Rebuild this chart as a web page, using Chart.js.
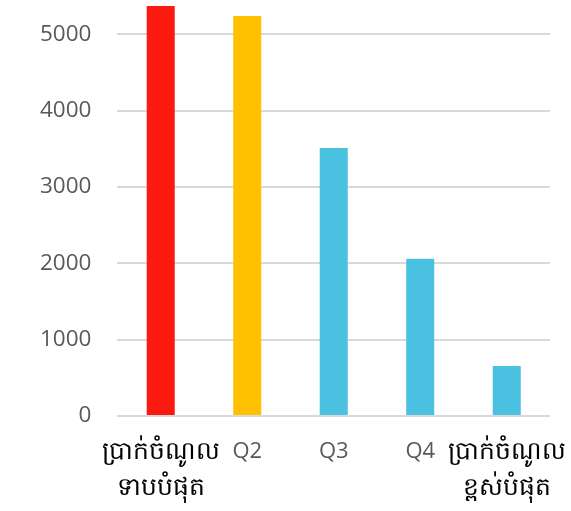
<!DOCTYPE html>
<html>
<head>
<meta charset="utf-8">
<script src="https://cdn.jsdelivr.net/npm/chart.js@4"></script>
<style>
  html, body { margin: 0; padding: 0; background: #fff; }
  #wrap { width: 571px; height: 511px; position: relative; }
</style>
</head>
<body>
<div id="wrap"><canvas id="myChart"></canvas></div>
<script>
// data
const categories = [
    ['ប្រាក់ចំណូល', 'ទាបបំផុត'],
    'Q2',
    'Q3',
    'Q4',
    ['ប្រាក់ចំណូល', 'ខ្ពស់បំផុត']
];
const values = [5370, 5240, 3510, 2060, 655];
const barColors = ['#fb1a0f', '#ffc000', '#4ac1e0', '#4ac1e0', '#4ac1e0'];
const yTicks = [0, 1000, 2000, 3000, 4000, 5000];

document.addEventListener('DOMContentLoaded', function () {
    const ctx = document.getElementById('myChart').getContext('2d');
    new Chart(ctx, {
        type: 'bar',
        data: {
            labels: categories,
            datasets: [{
                data: values,
                backgroundColor: barColors,
                borderWidth: 0,
                barPercentage: 0.324,
                categoryPercentage: 1
            }]
        },
        options: {
            responsive: true,
            maintainAspectRatio: false,
            animation: false,
            layout: {
                padding: { left: 40, right: 21, top: 0, bottom: -13 }
            },
            plugins: {
                legend: { display: false },
                tooltip: { enabled: false }
            },
            scales: {
                x: {
                    grid: { display: false, drawTicks: false },
                    border: { display: false },
                    // long khmer labels may hang over the edges, like in the original
                    afterFit: function (scale) {
                        scale.paddingLeft = 0;
                        scale.paddingRight = 0;
                    },
                    ticks: {
                        padding: 18,
                        maxRotation: 0,
                        autoSkip: false,
                        color: function (c) {
                            return Array.isArray(categories[c.index]) ? '#000000' : '#595959';
                        },
                        font: function (c) {
                            // khmer labels are set a bit larger than Q2..Q4
                            if (Array.isArray(categories[c.index])) {
                                return { family: "'Noto Sans', 'Open Sans', sans-serif", size: 25, lineHeight: '36px' };
                            }
                            return { family: "'Open Sans', 'Noto Sans', sans-serif", size: 22, lineHeight: '36px' };
                        }
                    }
                },
                y: {
                    min: 0,
                    max: 5450,
                    grid: { color: '#d9d9d9', lineWidth: 2, drawTicks: true, tickLength: 26, tickColor: 'rgba(0,0,0,0)' },
                    border: { display: false },
                    afterBuildTicks: function (axis) {
                        axis.ticks = yTicks.map(v => ({ value: v }));
                    },
                    afterFit: function (scale) {
                        scale.paddingTop = 0;
                        scale.paddingBottom = 0;
                    },
                    ticks: {
                        padding: 0,
                        color: '#595959',
                        callback: v => String(v),
                        font: { family: "'Open Sans', 'Noto Sans', sans-serif", size: 22.5 }
                    }
                }
            }
        }
    });
});
</script>
</body>
</html>
